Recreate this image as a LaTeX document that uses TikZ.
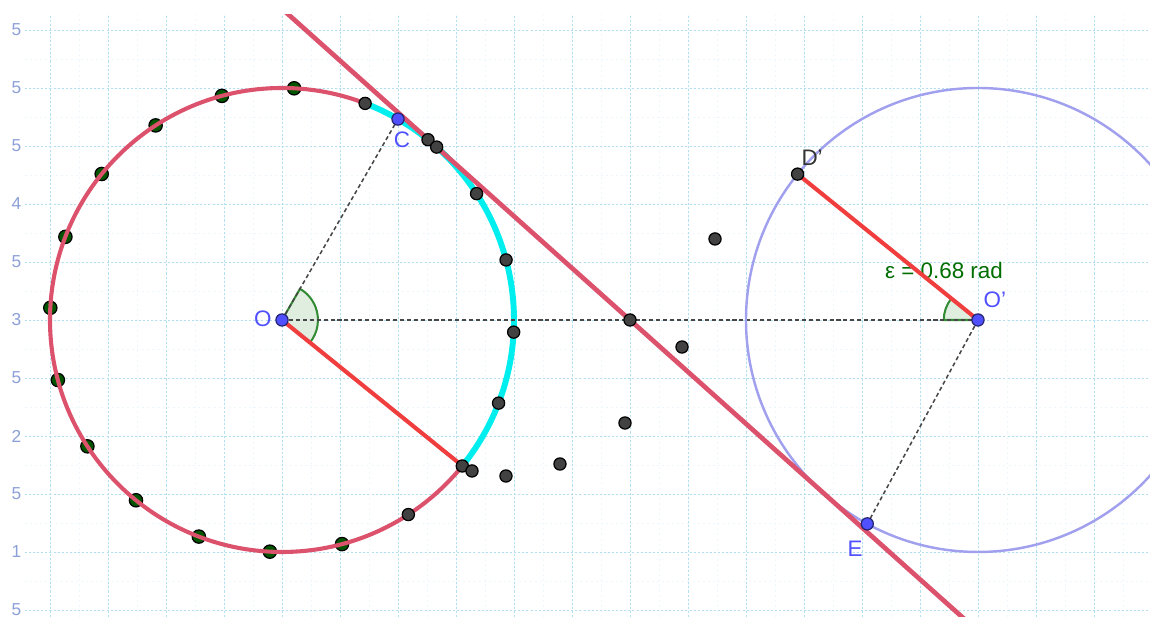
\documentclass[tikz,border=0pt]{standalone}
\usepackage{fontspec}
\setmainfont{Liberation Sans}
\usetikzlibrary{calc}

\definecolor{circred}{RGB}{220,82,108}
\definecolor{segred}{RGB}{240,62,62}
\definecolor{arccyan}{RGB}{0,238,238}
\definecolor{ringblue}{RGB}{160,160,238}
\definecolor{ptblue}{RGB}{80,80,255}
\definecolor{ptgreen}{RGB}{0,85,0}
\definecolor{ptgrey}{RGB}{66,66,66}
\definecolor{anggreen}{RGB}{0,110,0}
\definecolor{gridblue}{RGB}{178,224,240}
\definecolor{axlab}{RGB}{140,160,215}

\begin{document}
\begin{tikzpicture}[
  font=\fontsize{11}{13}\selectfont,
  majorgrid/.style={draw=gridblue, line width=0.45pt, dash pattern=on 1pt off 1pt},
  minorgrid/.style={draw=gridblue!22, line width=0.4pt, dash pattern=on 1pt off 1.5pt},
  ring/.style={draw=circred, line width=2pt},
  ringb/.style={draw=ringblue, line width=1.2pt},
  cyanarc/.style={draw=arccyan, line width=2.9pt},
  seg/.style={draw=segred, line width=2pt},
  tang/.style={draw=circred, line width=2.3pt},
  aux/.style={draw=black!72, line width=0.75pt, dash pattern=on 2pt off 1.4pt},
  wedge/.style={fill=anggreen!12, draw=anggreen!80, line width=1pt},
  pt/.style={circle, draw=black, line width=0.6pt, inner sep=0pt, minimum size=0.21cm},
  gpt/.style={pt, fill=ptgreen, minimum size=0.23cm},
  kpt/.style={pt, fill=ptgrey},
  bpt/.style={pt, fill=ptblue, draw=ptblue!45!black},
  lbl/.style={text=ptblue, inner sep=0pt},
  axnum/.style={text=axlab, font=\fontsize{8.5}{10}\selectfont, inner sep=0pt}
]
\useasboundingbox (-4.862,-5.121) rectangle (14.966,5.517);
\fill[white] (-4.862,-5.121) rectangle (14.966,5.517);

\coordinate (O) at (0,0);
\coordinate (Op) at (12,0);
\coordinate (M) at (6,0);
\coordinate (C) at (60:4);
\coordinate (A) at (-38.96:4);
\coordinate (S) at (69:4);
\coordinate (T) at (48.19:4);
\coordinate (D) at ($(Op)+(141.04:4)$);
\coordinate (E) at ($(Op)+(241.5:4)$);

% axis numbers, cut off by the window edge
\foreach \y/\t in {5/5, 4/5, 3/5, 2/4, 1/5, 0/3, -1/5, -2/2, -3/5, -4/1, -5/5}
  \node[axnum] at (-4.58,\y) {\t};

\begin{scope}
\clip (-4.431,-5.121) rectangle (14.966,5.259);
\draw[minorgrid] (-4.431,-5.121) grid[step=0.5] (14.966,5.259);
\draw[majorgrid] (-4.431,-5.121) grid[step=1] (14.966,5.259);

\foreach \k in {0,...,11}
  \node[gpt] (g\k) at ({87+18*\k}:4) {};
\draw[ring] (O) circle[radius=4];
\draw[cyanarc] (S) arc[start angle=69, end angle=-39, radius=4];

\draw[wedge] (O) -- ++(-38.96:0.62) arc[start angle=-38.96, end angle=60, radius=0.62] -- cycle;
\draw[wedge] (Op) -- ++(141.04:0.59) arc[start angle=141.04, end angle=180, radius=0.59] -- cycle;

\draw[aux] (O) -- (C);
\draw[aux] (O) -- (Op);
\draw[aux] (Op) -- (E);
\draw[ringb] (Op) circle[radius=4];

\node[text=anggreen, inner sep=0pt] (eps) at (11.414,0.862) {ε = 0.68 rad};
\draw[seg] (O) -- (A);
\draw[seg] (D) -- (Op);
\draw[tang] ($(T)!-0.8!(M)$) -- ($(T)!2.8!(M)$);

\foreach \a [count=\i] in {69,51,33,15,-3,-21,-39,-57,48.19}
  \node[kpt] (k\i) at (\a:4) {};
\foreach \p [count=\i] in {(3.276,-2.603),(3.862,-2.690),(4.793,-2.483),(5.914,-1.776),(6.897,-0.466),(7.466,1.397)}
  \node[kpt] (f\i) at \p {};
\node[kpt] (mid) at (M) {};
\node[kpt] (dp) at (D) {};
\node[bpt] (c) at (C) {};
\node[bpt] (e) at (E) {};
\node[bpt] (o) at (O) {};
\node[bpt] (op) at (Op) {};
\end{scope}

\node[lbl] (labO) at (-0.33,0.02) {O};
\node[lbl] (labC) at (2.07,3.10) {C};
\node[text=black!80, inner sep=0pt] (labD) at (9.14,2.79) {D'};
\node[lbl] (labOp) at (12.29,0.35) {O'};
\node[lbl] (labE) at (9.88,-3.95) {E};
\end{tikzpicture}
\end{document}
